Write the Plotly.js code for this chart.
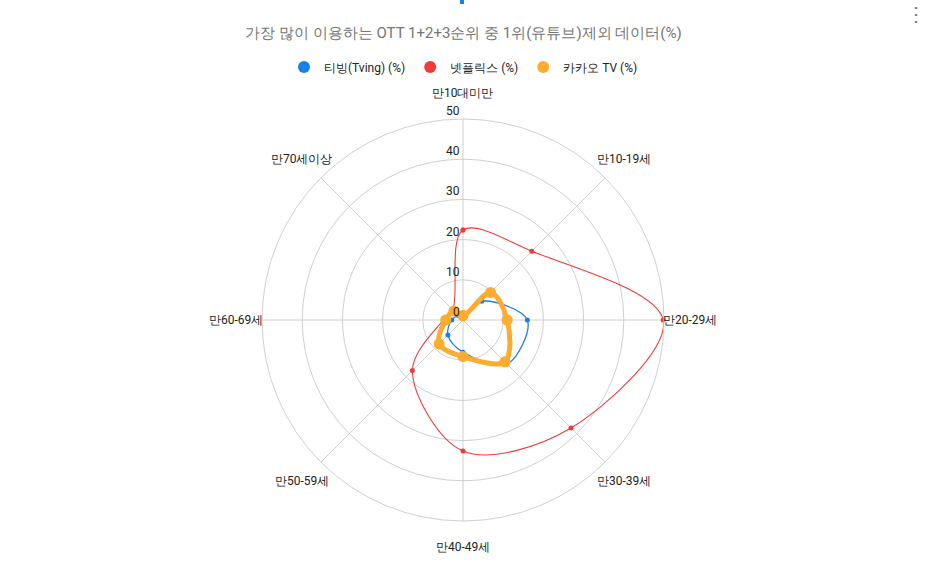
<!DOCTYPE html>
<html>
<head>
<meta charset="utf-8">
<script src="https://cdn.plot.ly/plotly-3.0.1.min.js"></script>
<style>html,body{margin:0;padding:0;background:#fff;}#chart{width:927px;height:573px;}</style>
</head>
<body>
<div id="chart"></div>
<script>
const categories = ['만10대미만', '만10-19세', '만20-29세', '만30-39세', '만40-49세', '만50-59세', '만60-69세', '만70세이상'];
const tving = [1, 6.6, 16, 15.5, 8, 5.3, 2.8, 1.5];
const netflix = [22.4, 24.2, 49.8, 38, 32.6, 17.8, 4.9, 3.6];
const kakao = [1.1, 9.7, 11, 14.7, 9.1, 8.4, 4.3, 3.2];
const seriesNames = ['티빙(Tving) (%)', '넷플릭스 (%)', '카카오 TV (%)'];
const radialTicks = [0, 10, 20, 30, 40, 50];
const chartTitle = '가장 많이 이용하는 OTT 1+2+3순위 중 1위(유튜브)제외 데이터(%)';

const colors = ['#1a7fe8', '#ef3b3b', '#fdac2f'];
const closeLoop = a => a.concat([a[0]]);
const cats = closeLoop(categories);

function series(vals, i, lw, ms) {
  return {
    type: 'scatterpolar', mode: 'lines+markers',
    r: closeLoop(vals), theta: cats, name: seriesNames[i],
    line: {color: colors[i], width: lw, shape: 'spline', smoothing: 1},
    marker: {color: colors[i], size: ms},
    showlegend: false, hoverinfo: 'skip'
  };
}
function legendItem(i) {
  return {
    type: 'scatterpolar', mode: 'markers', r: [null], theta: [null],
    name: seriesNames[i], marker: {color: colors[i], size: 12, symbol: 'circle'},
    showlegend: true
  };
}

const data = [
  series(tving, 0, 1.3, 5),
  series(netflix, 1, 1.1, 5),
  series(kakao, 2, 5, 11),
  legendItem(0), legendItem(1), legendItem(2)
];

const cx = 463, cy = 320, R = 201, W = 927, H = 573;
const rMax = 50;
const labelR = 227;
const catAnnotations = categories.map((c, k) => {
  const a = k * 2 * Math.PI / categories.length;
  return {
    text: c, xref: 'paper', yref: 'paper', showarrow: false,
    x: (cx + labelR * Math.sin(a)) / W, y: 1 - (cy - labelR * Math.cos(a)) / H,
    xanchor: 'center', yanchor: 'middle',
    font: {size: 12, color: '#222'}
  };
});
const radialAnnotations = radialTicks.map(v => ({
  text: String(v), xref: 'paper', yref: 'paper', showarrow: false,
  x: (cx - 1) / W, y: 1 - (cy - v * R / rMax - 8) / H,
  xanchor: 'right', yanchor: 'middle',
  font: {size: 12, color: '#222'}
}));

const layout = {
  width: W, height: H,
  margin: {l: 0, r: 0, t: 0, b: 0},
  paper_bgcolor: '#fff',
  font: {family: 'Roboto, Arial, sans-serif', size: 12, color: '#222'},
  title: {text: chartTitle, x: 0.5, xanchor: 'center', y: 1 - 33/H, yanchor: 'middle',
          font: {size: 15, color: '#757575', family: 'Roboto, Arial, sans-serif'}},
  legend: {orientation: 'h', x: 0.5, xanchor: 'center', y: 1 - 67/H, yanchor: 'middle',
           font: {size: 12, color: '#222'}, itemwidth: 30, bgcolor: 'rgba(0,0,0,0)'},
  polar: {
    domain: {x: [(cx - R)/W, (cx + R)/W], y: [1 - (cy + R)/H, 1 - (cy - R)/H]},
    bgcolor: '#fff',
    radialaxis: {
      range: [0, rMax], tickvals: radialTicks, showticklabels: false,
      angle: 90, showline: false, ticks: '',
      gridcolor: '#d0d0d0', gridwidth: 1
    },
    angularaxis: {
      type: 'category', categoryarray: categories, rotation: 90, direction: 'clockwise',
      showline: true, linecolor: '#d0d0d0', linewidth: 1,
      gridcolor: '#d0d0d0', gridwidth: 1,
      ticks: '', showticklabels: false
    }
  },
  shapes: [
    {type: 'rect', xref: 'paper', yref: 'paper', x0: 460/W, x1: 464/W, y0: 1 - 4/H, y1: 1,
     fillcolor: '#1a7fe8', line: {width: 0}}
  ],
  annotations: radialAnnotations.concat(catAnnotations, [
    {text: '⋮', xref: 'paper', yref: 'paper', x: 916/W, y: 1 - 14/H, showarrow: false,
     font: {size: 20, color: '#757575'}, xanchor: 'center', yanchor: 'middle'}
  ])
};

Plotly.newPlot('chart', data, layout, {displayModeBar: false, staticPlot: true});
</script>
</body>
</html>
